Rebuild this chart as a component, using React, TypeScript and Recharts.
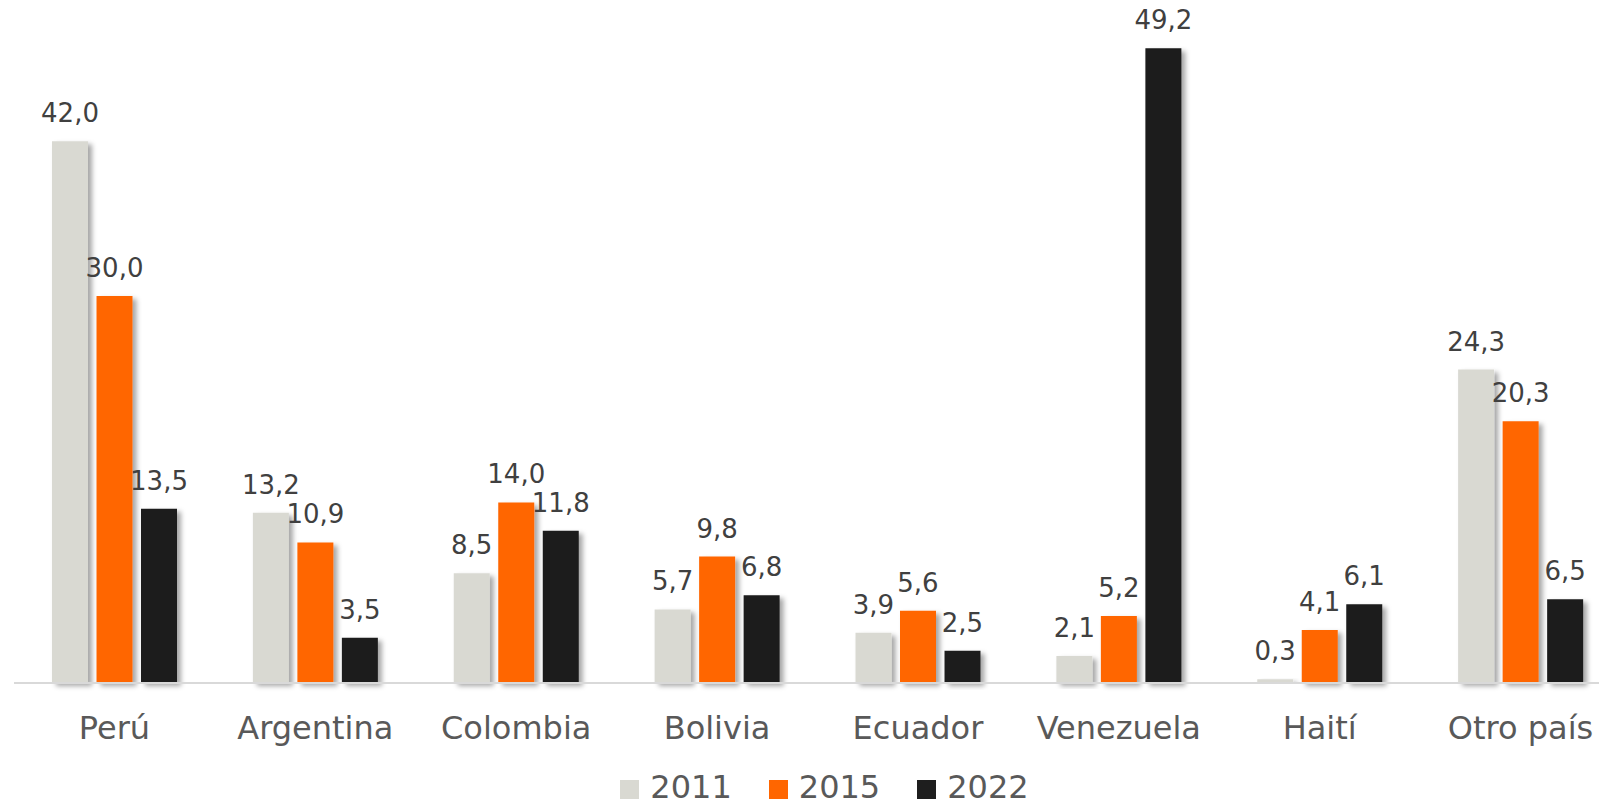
import React from "react";
import { BarChart, Bar, XAxis, YAxis, Legend, LabelList } from "recharts";

const categories = ["Perú", "Argentina", "Colombia", "Bolivia", "Ecuador", "Venezuela", "Haití", "Otro país"];
const values2011 = [42.0, 13.2, 8.5, 5.7, 3.9, 2.1, 0.3, 24.3];
const values2015 = [30.0, 10.9, 14.0, 9.8, 5.6, 5.2, 4.1, 20.3];
const values2022 = [13.5, 3.5, 11.8, 6.8, 2.5, 49.2, 6.1, 6.5];

const series = [
  { key: "y2011", name: "2011", color: "#D9D9D2" },
  { key: "y2015", name: "2015", color: "#FF6600" },
  { key: "y2022", name: "2022", color: "#1E1E1E" },
];

const data = categories.map((c, i) => ({
  name: c,
  y2011: values2011[i],
  y2015: values2015[i],
  y2022: values2022[i],
}));

const FONT = "'DejaVu Sans', sans-serif";

const fmt = (v: number) => v.toFixed(1).replace(".", ",");

const ValueLabel = (props: any) => {
  const { x, y, width, value } = props;
  return (
    <text x={x + width / 2} y={y - 19} textAnchor="middle" fontSize={26} fontFamily={FONT} fill="#404040">
      {fmt(value)}
    </text>
  );
};

const CategoryTick = (props: any) => {
  const { x, y, payload } = props;
  return (
    <text x={x} y={y + 56} textAnchor="middle" fontSize={32} fontFamily={FONT} fill="#595959">
      {payload.value}
    </text>
  );
};

const LegendContent = () => (
  <div
    style={{
      height: 47,
      display: "flex",
      justifyContent: "center",
      alignItems: "center",
      paddingLeft: 14,
      fontFamily: FONT,
      fontSize: 32,
      color: "#595959",
    }}
  >
    {series.map((s, i) => (
      <div key={s.key} style={{ display: "flex", alignItems: "center", marginLeft: i === 0 ? 0 : 37 }}>
        <span style={{ width: 19, height: 19, background: s.color, display: "inline-block", marginRight: 11, marginTop: 6 }} />
        <span>{s.name}</span>
      </div>
    ))}
  </div>
);

// the original plot runs past the right edge of the picture, so draw it wider and crop
export default function App() {
  return (
    <div style={{ position: "absolute", left: 0, top: 0, width: 1599, height: 810, overflow: "hidden", background: "#fff" }}>
      <BarChart
        width={1622}
        height={810}
        data={data}
        margin={{ top: 38, right: 1, left: 14, bottom: 0 }}
        barSize={36}
        barGap={8.5}
      >
        <defs>
          <filter id="barShadow" x="-30%" y="-10%" width="160%" height="130%">
            <feDropShadow dx="4" dy="3" stdDeviation="2.5" floodColor="#000" floodOpacity="0.35" />
          </filter>
        </defs>
        <XAxis
          dataKey="name"
          height={80}
          tickLine={false}
          tickSize={0}
          tickMargin={0}
          axisLine={{ stroke: "#D9D9D9", strokeWidth: 2 }}
          tick={<CategoryTick />}
          interval={0}
        />
        <YAxis hide domain={[0, 50]} />
        <Legend verticalAlign="bottom" content={<LegendContent />} />
        {series.map((s) => (
          <Bar key={s.key} dataKey={s.key} name={s.name} fill={s.color} filter="url(#barShadow)" isAnimationActive={false}>
            <LabelList dataKey={s.key} content={<ValueLabel />} />
          </Bar>
        ))}
      </BarChart>
    </div>
  );
}
